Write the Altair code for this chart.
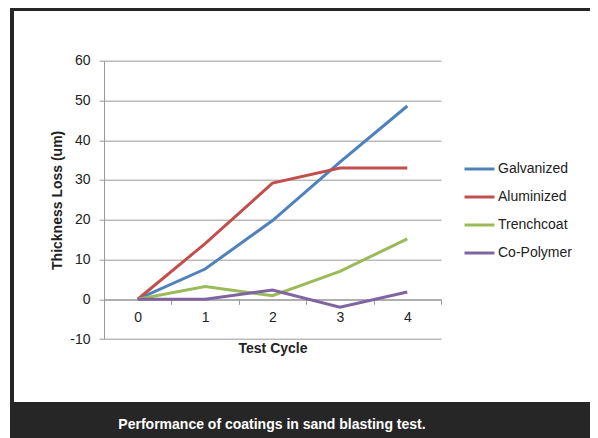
import altair as alt
import pandas as pd

cycles = [0, 1, 2, 3, 4]
series_names = ["Galvanized", "Aluminized", "Trenchcoat", "Co-Polymer"]
galvanized = [0, 7.6, 19.8, 34.5, 48.6]
aluminized = [0, 14.0, 29.2, 33.0, 33.0]
trenchcoat = [0, 3.2, 0.9, 7.0, 15.2]
copolymer = [0, 0.0, 2.3, -2.0, 1.8]
colors = ["#4F81BD", "#C0504D", "#9BBB59", "#8064A2"]
y_ticks = [-10, 0, 10, 20, 30, 40, 50, 60]
x_tick_marks = [-0.5, 0.5, 1.5, 2.5, 3.5, 4.5]
caption = "Performance of coatings in sand blasting test."

rows = []
for name, vals in zip(series_names, [galvanized, aluminized, trenchcoat, copolymer]):
    for c, v in zip(cycles, vals):
        rows.append({"cycle": c, "value": v, "series": name})
df = pd.DataFrame(rows)

FONT = "Liberation Sans"
TXT = "#222222"
W, H = 337, 278.3
axis_offset = -39.7  # x axis drawn at y = 0

x_scale = alt.Scale(domain=[-0.5, 4.5], nice=False, zero=False)
y_scale = alt.Scale(domain=[-10, 60], nice=False)

lines = alt.Chart(df).mark_line(strokeWidth=3).encode(
    x=alt.X("cycle:Q", scale=x_scale,
            axis=alt.Axis(values=cycles, ticks=False, grid=False, domain=True,
                          domainColor="#999999", domainWidth=1,
                          labelFont=FONT, labelFontSize=14, labelColor=TXT,
                          labelPadding=11, offset=axis_offset, orient="bottom",
                          title="Test Cycle", titleFont=FONT, titleFontSize=14,
                          titleFontWeight="bold", titleColor=TXT,
                          titlePadding=17)),
    y=alt.Y("value:Q", scale=y_scale,
            axis=alt.Axis(values=y_ticks, grid=True, gridColor="#999999",
                          domainColor="#999999", tickColor="#999999", tickSize=5,
                          labelExpr="'' + datum.value",
                          labelFont=FONT, labelFontSize=14, labelColor=TXT,
                          labelPadding=9, title="Thickness Loss (um)",
                          titleFont=FONT, titleFontSize=14, titleFontWeight="bold",
                          titleColor=TXT, titlePadding=5)),
    color=alt.Color("series:N", sort=series_names,
                    scale=alt.Scale(domain=series_names, range=colors),
                    legend=alt.Legend(title=None, orient="none", legendX=359, legendY=94.3,
                                      symbolType="stroke", symbolSize=900,
                                      symbolStrokeWidth=3, clipHeight=28, rowPadding=0,
                                      labelFont=FONT, labelFontSize=14,
                                      labelColor=TXT, labelOffset=2, padding=0)),
    detail="series:N",
)

ticks_layer = alt.Chart(pd.DataFrame({"t": x_tick_marks})).mark_point(opacity=0).encode(
    x=alt.X("t:Q", scale=x_scale,
            axis=alt.Axis(values=x_tick_marks, labels=False, domain=False, grid=False,
                          ticks=True, tickSize=5, tickColor="#999999",
                          offset=axis_offset, orient="bottom", title=None)),
)

one = alt.Data(values=[{"a": 1}])
frame_color = "#262626"
top_bar = alt.Chart(one).mark_rect(color=frame_color).encode(
    x=alt.value(-94), x2=alt.value(486), y=alt.value(-53.7), y2=alt.value(-49.7))
left_bar = alt.Chart(one).mark_rect(color=frame_color).encode(
    x=alt.value(-94), x2=alt.value(-90), y=alt.value(-53.7), y2=alt.value(341.3))
bottom_band = alt.Chart(one).mark_rect(color=frame_color).encode(
    x=alt.value(-94), x2=alt.value(486), y=alt.value(341.3), y2=alt.value(380))
cap_df = pd.DataFrame({"t": [caption]})
cap_text = alt.Chart(cap_df).mark_text(
    font="Liberation Sans Narrow, Arial Narrow, Liberation Sans", fontSize=14,
    fontWeight="bold", color="white", align="center", baseline="middle").encode(
    text="t:N", x=alt.value(168), y=alt.value(364))

chart = alt.layer(top_bar, left_bar, bottom_band, cap_text, ticks_layer, lines).resolve_axis(
    x="independent"
).properties(
    width=W, height=H,
    autosize=alt.AutoSizeParams(type="none"),
    padding={"left": 96, "top": 52.7, "right": 149, "bottom": 99},
    background="white",
).configure_view(stroke=None)

chart.save("out.html", embed_options={"renderer": "svg", "actions": False})
